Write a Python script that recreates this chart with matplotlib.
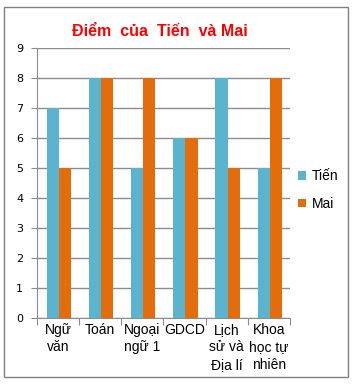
import matplotlib
matplotlib.use("Agg")
import matplotlib.pyplot as plt
import numpy as np
from matplotlib.patches import Rectangle

categories = ["Ngữ\nvăn", "Toán", "Ngoại\nngữ 1", "GDCD", "Lịch\nsử và\nĐịa lí", "Khoa\nhọc tự\nnhiên"]
tien = [7, 8, 5, 6, 8, 5]
mai = [5, 8, 8, 6, 5, 8]
series_names = ["Tiến", "Mai"]
title = "Điểm  của  Tiến  và Mai"

W, H = 360, 386
fig = plt.figure(figsize=(W/100, H/100), dpi=100)
plt.rcParams['font.family'] = ['DejaVu Sans']

# outer border
fig.add_artist(Rectangle((4/W, 1-377/H), 344/W, 370/H, transform=fig.transFigure,
                         fill=False, edgecolor='#808080', linewidth=1))

x0, x1 = 37, 290
y0, y1 = 48, 318
ax = fig.add_axes([x0/W, 1-y1/H, (x1-x0)/W, (y1-y0)/H])

n = len(categories)
x = np.arange(n)
bw = 0.29
ax.bar(x - bw/2 + 0.02, tien, bw, color='#5BB4CF', label=series_names[0], zorder=3)
ax.bar(x + bw/2 + 0.02, mai, bw, color='#E46C0A', label=series_names[1], zorder=3)

ax.set_xlim(-0.5, n-0.5)
ax.set_ylim(0, 9)
ax.set_yticks(range(0, 10))
ax.yaxis.grid(True, color='#8c8c8c', linewidth=1, zorder=0)
ax.set_axisbelow(True)
for s in ['top', 'right']:
    ax.spines[s].set_visible(False)
ax.spines['left'].set_color('#8c8c8c')
ax.spines['bottom'].set_color('#8c8c8c')
ax.tick_params(axis='y', length=4, color='#8c8c8c', labelsize=8, pad=6)
ax.set_xticks(np.arange(-0.5, n, 1))
ax.set_xticklabels([])
ax.tick_params(axis='x', length=5, color='#8c8c8c', direction='out')
for i, c in enumerate(categories):
    ax.text(i, -0.17, c, ha='center', va='top', fontsize=10, linespacing=1.3,
            family=['Liberation Sans', 'DejaVu Sans'], transform=ax.transData)

fig.text(160/W, 1-32/H, title, color='#FF0000', fontsize=11.5, fontweight='bold',
         family=['Liberation Sans', 'DejaVu Sans'], ha='center', va='center')

leg = fig.legend(loc='center left', bbox_to_anchor=(285/W, 1-190/H), frameon=False,
                 prop={'family': ['Liberation Sans', 'DejaVu Sans'], 'size': 10},
                 handlelength=0.6, handleheight=0.6, handletextpad=0.4,
                 labelspacing=1.0)

fig.savefig("out.png", dpi=100)
